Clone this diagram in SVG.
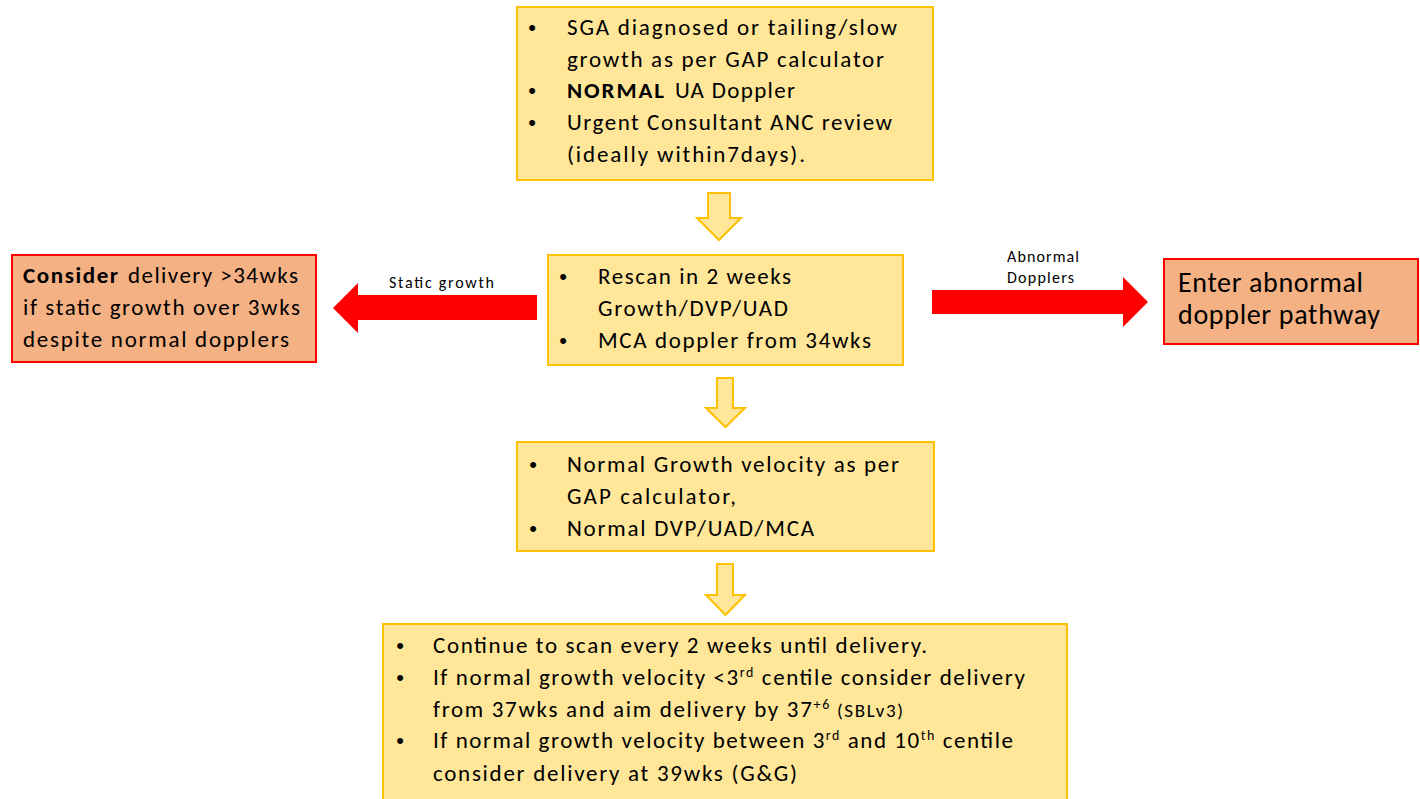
<svg xmlns="http://www.w3.org/2000/svg" width="1420" height="799" viewBox="0 0 1420 799">
<style>
text{font-family:Carlito,Lato,"Liberation Sans",sans-serif;fill:#000}
.t{font-size:23px}
.b{font-size:22px;text-anchor:middle;font-family:"Liberation Sans",sans-serif}
.lbl{font-size:16px}
.big{font-size:28px}
.ybox{fill:#FFE699;stroke:#FFC000;stroke-width:2}
.obox{fill:#F4B183;stroke:#FF0000;stroke-width:2}
.yarr{fill:#FFE699;stroke:#FFC000;stroke-width:2;stroke-linejoin:miter}
.rarr{fill:#FF0000;stroke:none}
.sup{font-size:14px}
.small{font-size:19px}
</style>
<rect width="1420" height="799" fill="#fff"/>

<g id="connectors">
  <polygon class="yarr" points="708,193 730,193 730,218 741,218 719,240 697,218 708,218"/>
  <polygon class="yarr" points="717,378 733,378 733,408 745,408 725.5,427 706,408 717,408"/>
  <polygon class="yarr" points="717,564 733,564 733,595 745,595 725.5,615 706,595 717,595"/>
  <polygon class="rarr" points="537,295 537,320 358,320 358,333 333,308 358,283 358,295"/>
  <text class="lbl" x="389" y="288" textLength="105" lengthAdjust="spacing">Static growth</text>
  <polygon class="rarr" points="932,290 1123,290 1123,277 1148,302 1123,327 1123,314 932,314"/>
  <text class="lbl" x="1007" y="262" textLength="72" lengthAdjust="spacing">Abnormal</text>
  <text class="lbl" x="1007" y="283" textLength="67" lengthAdjust="spacing">Dopplers</text>
</g>

<g id="node-sga">
  <rect class="ybox" x="517" y="7" width="416" height="173"/>
  <text class="b" x="532" y="35">•</text>
  <text class="t" x="567" y="35" textLength="330" lengthAdjust="spacing">SGA diagnosed or tailing/slow</text>
  <text class="t" x="567" y="67" textLength="317" lengthAdjust="spacing">growth as per GAP calculator</text>
  <text class="b" x="532" y="98">•</text>
  <text class="t" x="567" y="98" font-weight="bold" textLength="97" lengthAdjust="spacing">NORMAL</text>
  <text class="t" x="675" y="98" textLength="120" lengthAdjust="spacing">UA Doppler</text>
  <text class="b" x="532" y="130">•</text>
  <text class="t" x="567" y="130" textLength="325" lengthAdjust="spacing">Urgent Consultant ANC review</text>
  <text class="t" x="567" y="162" textLength="238" lengthAdjust="spacing">(ideally within7days).</text>
</g>

<g id="node-rescan">
  <rect class="ybox" x="548" y="255" width="355" height="110"/>
  <text class="b" x="563" y="284">•</text>
  <text class="t" x="598" y="284" textLength="193" lengthAdjust="spacing">Rescan in 2 weeks</text>
  <text class="t" x="598" y="316" textLength="190" lengthAdjust="spacing">Growth/DVP/UAD</text>
  <text class="b" x="563" y="348">•</text>
  <text class="t" x="598" y="348" textLength="273" lengthAdjust="spacing">MCA doppler from 34wks</text>
</g>

<g id="node-static">
  <rect class="obox" x="12" y="255" width="304" height="107"/>
  <text class="t" x="23" y="283" font-weight="bold" textLength="95" lengthAdjust="spacing">Consider</text>
  <text class="t" x="128" y="283" textLength="170" lengthAdjust="spacing">delivery &gt;34wks</text>
  <text class="t" x="23" y="315" textLength="277" lengthAdjust="spacing">if static growth over 3wks</text>
  <text class="t" x="23" y="347" textLength="266" lengthAdjust="spacing">despite normal dopplers</text>
</g>

<g id="node-abnormal">
  <rect class="obox" x="1164" y="259" width="254" height="85"/>
  <text class="big" x="1178" y="292" textLength="185" lengthAdjust="spacing">Enter abnormal</text>
  <text class="big" x="1178" y="324" textLength="202" lengthAdjust="spacing">doppler pathway</text>
</g>

<g id="node-normal">
  <rect class="ybox" x="517" y="442" width="417" height="109"/>
  <text class="b" x="533" y="472">•</text>
  <text class="t" x="567" y="472" textLength="332" lengthAdjust="spacing">Normal Growth velocity as per</text>
  <text class="t" x="567" y="504" textLength="169" lengthAdjust="spacing">GAP calculator,</text>
  <text class="b" x="533" y="536">•</text>
  <text class="t" x="567" y="536" textLength="247" lengthAdjust="spacing">Normal DVP/UAD/MCA</text>
</g>

<g id="node-continue">
  <rect class="ybox" x="383" y="624" width="684" height="185"/>
  <text class="b" x="400" y="653">•</text>
  <text class="t" x="433" y="653" textLength="494" lengthAdjust="spacing">Continue to scan every 2 weeks until delivery.</text>
  <text class="b" x="400" y="685">•</text>
  <text class="t" x="433" y="685" textLength="592" lengthAdjust="spacing">If normal growth velocity &lt;3<tspan class="sup" dy="-8">rd</tspan><tspan dy="8"> centile consider delivery</tspan></text>
  <text class="t" x="433" y="717" textLength="470" lengthAdjust="spacing">from 37wks and aim delivery by 37<tspan class="sup" dy="-8">+6</tspan><tspan class="small" dy="8"> (SBLv3)</tspan></text>
  <text class="b" x="400" y="748">•</text>
  <text class="t" x="433" y="748" textLength="580" lengthAdjust="spacing">If normal growth velocity between 3<tspan class="sup" dy="-8">rd</tspan><tspan dy="8"> and 10</tspan><tspan class="sup" dy="-8">th</tspan><tspan dy="8"> centile</tspan></text>
  <text class="t" x="433" y="781" textLength="364" lengthAdjust="spacing">consider delivery at 39wks (G&amp;G)</text>
</g>
</svg>
